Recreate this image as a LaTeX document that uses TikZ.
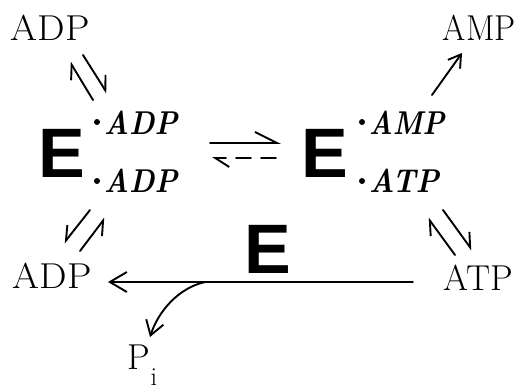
\documentclass[tikz,border=0pt]{standalone}
\usepackage{fontspec}
\newfontfamily\Efont{Liberation Sans}
\usetikzlibrary{arrows.meta}
\begin{document}
\begin{tikzpicture}[x=1pt,y=-1pt, line width=1.9pt, line cap=round,
  lab/.style={inner sep=0pt, anchor=base west, font=\fontsize{36}{36}\selectfont},
  cpx/.style={inner sep=0pt, anchor=base west, font=\fontsize{33}{33}\selectfont\bfseries\itshape},
  bigE/.style={inner sep=0pt, anchor=base, font=\fontsize{70}{70}\selectfont\Efont\bfseries},
  dotnode/.style={circle, fill, inner sep=0pt, minimum size=6pt},
  harpL/.style={-{Straight Barb[left,length=13pt,width=17pt]}},
  harpR/.style={-{Straight Barb[right,length=13pt,width=17pt]}}]
\useasboundingbox (0,0) rectangle (521,391);

% species
\node[lab] (adpA) at (10,40) {\scalebox{1.08}[1]{ADP}};
\node[lab] (amp) at (442,40) {\scalebox{0.93}[1]{AMP}};
\node[lab] (adpB) at (12,288) {\scalebox{1.08}[1]{ADP}};
\node[lab] (atp) at (443,290) {\scalebox{1.0}[1]{ATP}};
\node[lab] (pi) at (127,369) {P\raisebox{-16pt}{\fontsize{26}{26}\selectfont i}};

% enzyme complexes
\node[bigE] (E1) at (62,177) {E};
\node[bigE] (E2) at (325,177) {E};
\node[bigE] (E3) at (268,273) {E};

\node[dotnode] (d1) at (97,122) {};
\node[cpx] (l1) at (103,134) {\scalebox{0.88}[1]{ADP}};
\node[dotnode] (d2) at (97,181) {};
\node[cpx] (l2) at (103,192) {\scalebox{0.88}[1]{ADP}};
\node[dotnode] (d3) at (362,122) {};
\node[cpx] (l3) at (368,134) {\scalebox{0.84}[1]{AMP}};
\node[dotnode] (d4) at (362,181) {};
\node[cpx] (l4) at (368,192) {\scalebox{0.9}[1]{ATP}};

% arrow end points
\coordinate (tla) at (93,100);  \coordinate (tlb) at (70,62);
\coordinate (tlc) at (83,55);   \coordinate (tld) at (107,93);
\coordinate (bla) at (90,210);  \coordinate (blb) at (64,243);
\coordinate (blc) at (80,251);  \coordinate (bld) at (105,218);
\coordinate (bra) at (455,255); \coordinate (brb) at (428,218);
\coordinate (brc) at (443,210); \coordinate (brd) at (472,250);
\coordinate (ampa) at (432,95); \coordinate (ampb) at (462,53);
\coordinate (eqa) at (210,143); \coordinate (eqb) at (281,143);
\coordinate (eqc) at (276,158); \coordinate (eqd) at (212,158);
\coordinate (ha) at (413,282);  \coordinate (hb) at (108,282);
\coordinate (pa) at (205,282);  \coordinate (pb) at (150,337);

% top-left equilibrium
\draw[harpL] (tla) -- (tlb);
\draw[harpL] (tlc) -- (tld);
% bottom-left equilibrium
\draw[harpR] (bla) -- (blb);
\draw[harpR] (blc) -- (bld);
% bottom-right equilibrium
\draw[harpL] (bra) -- (brb);
\draw[harpL] (brc) -- (brd);
% to AMP
\draw[-{Straight Barb[length=12pt,width=15pt]}] (ampa) -- (ampb);
% central equilibrium
\draw[-{Straight Barb[left,length=22pt,width=22pt]}] (eqa) -- (eqb);
\draw[dash pattern=on 15pt off 10pt, -{Straight Barb[left,length=14pt,width=18pt]}] (eqc) -- (eqd);
% hydrolysis
\draw[-{Straight Barb[length=17pt,width=20pt]}] (ha) -- (hb);
\draw[-{Straight Barb[length=14pt,width=18pt]}] (pa) .. controls (178,288) and (158,312) .. (pb);
\end{tikzpicture}
\end{document}
